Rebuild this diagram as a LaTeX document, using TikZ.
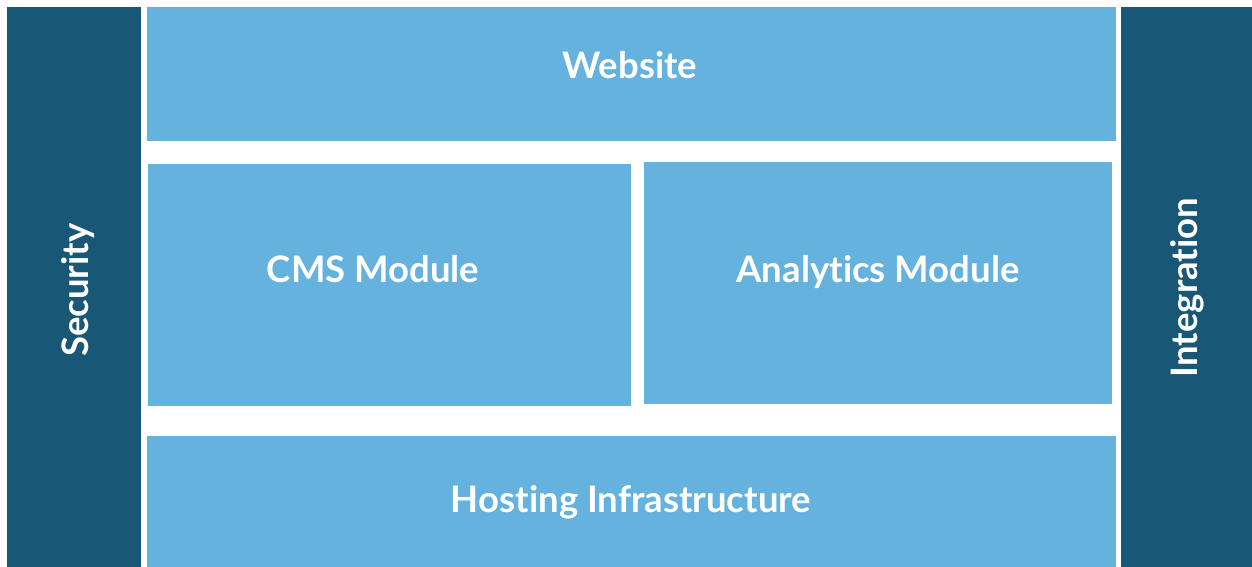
\documentclass[tikz,border=0pt]{standalone}
\usepackage{fontspec}
\setmainfont{Lato}[Ligatures=NoCommon]
\definecolor{darkblue}{HTML}{185776}
\definecolor{lightblue}{HTML}{64B2DD}
\begin{document}
\begin{tikzpicture}[x=1pt,y=-1pt,
  box/.style={inner sep=0pt, outer sep=0pt, anchor=north west},
  lbl/.style={text=white, font=\fontsize{36.5}{40}\selectfont\bfseries, inner sep=0pt, anchor=base}]
\useasboundingbox (0,0) rectangle (1252,567);
\fill[white] (0,0) rectangle (1252,567);
\node[box, fill=darkblue, minimum width=134pt, minimum height=560pt] (sec) at (7,7) {};
\node[box, fill=darkblue, minimum width=131pt, minimum height=560pt] (int) at (1121,7) {};
\node[box, fill=lightblue, minimum width=969pt, minimum height=134pt] (web) at (147,7) {};
\node[box, fill=lightblue, minimum width=483pt, minimum height=242pt] (cms) at (148,164) {};
\node[box, fill=lightblue, minimum width=468pt, minimum height=242pt] (ana) at (644,162) {};
\node[box, fill=lightblue, minimum width=969pt, minimum height=131pt] (host) at (147,436) {};
\node[lbl] (tweb) at (630,78.5) {Website};
\node[lbl] (tcms) at (373,282) {CMS Module};
\node[lbl] (tana) at (878,282) {Analytics Module};
\node[lbl] (thost) at (631,512) {Hosting Infrastructure};
\node[lbl, rotate=90] (tsec) at (88,290) {Security};
\node[lbl, rotate=90] (tint) at (1197,287.5) {Integration};
\end{tikzpicture}
\end{document}
